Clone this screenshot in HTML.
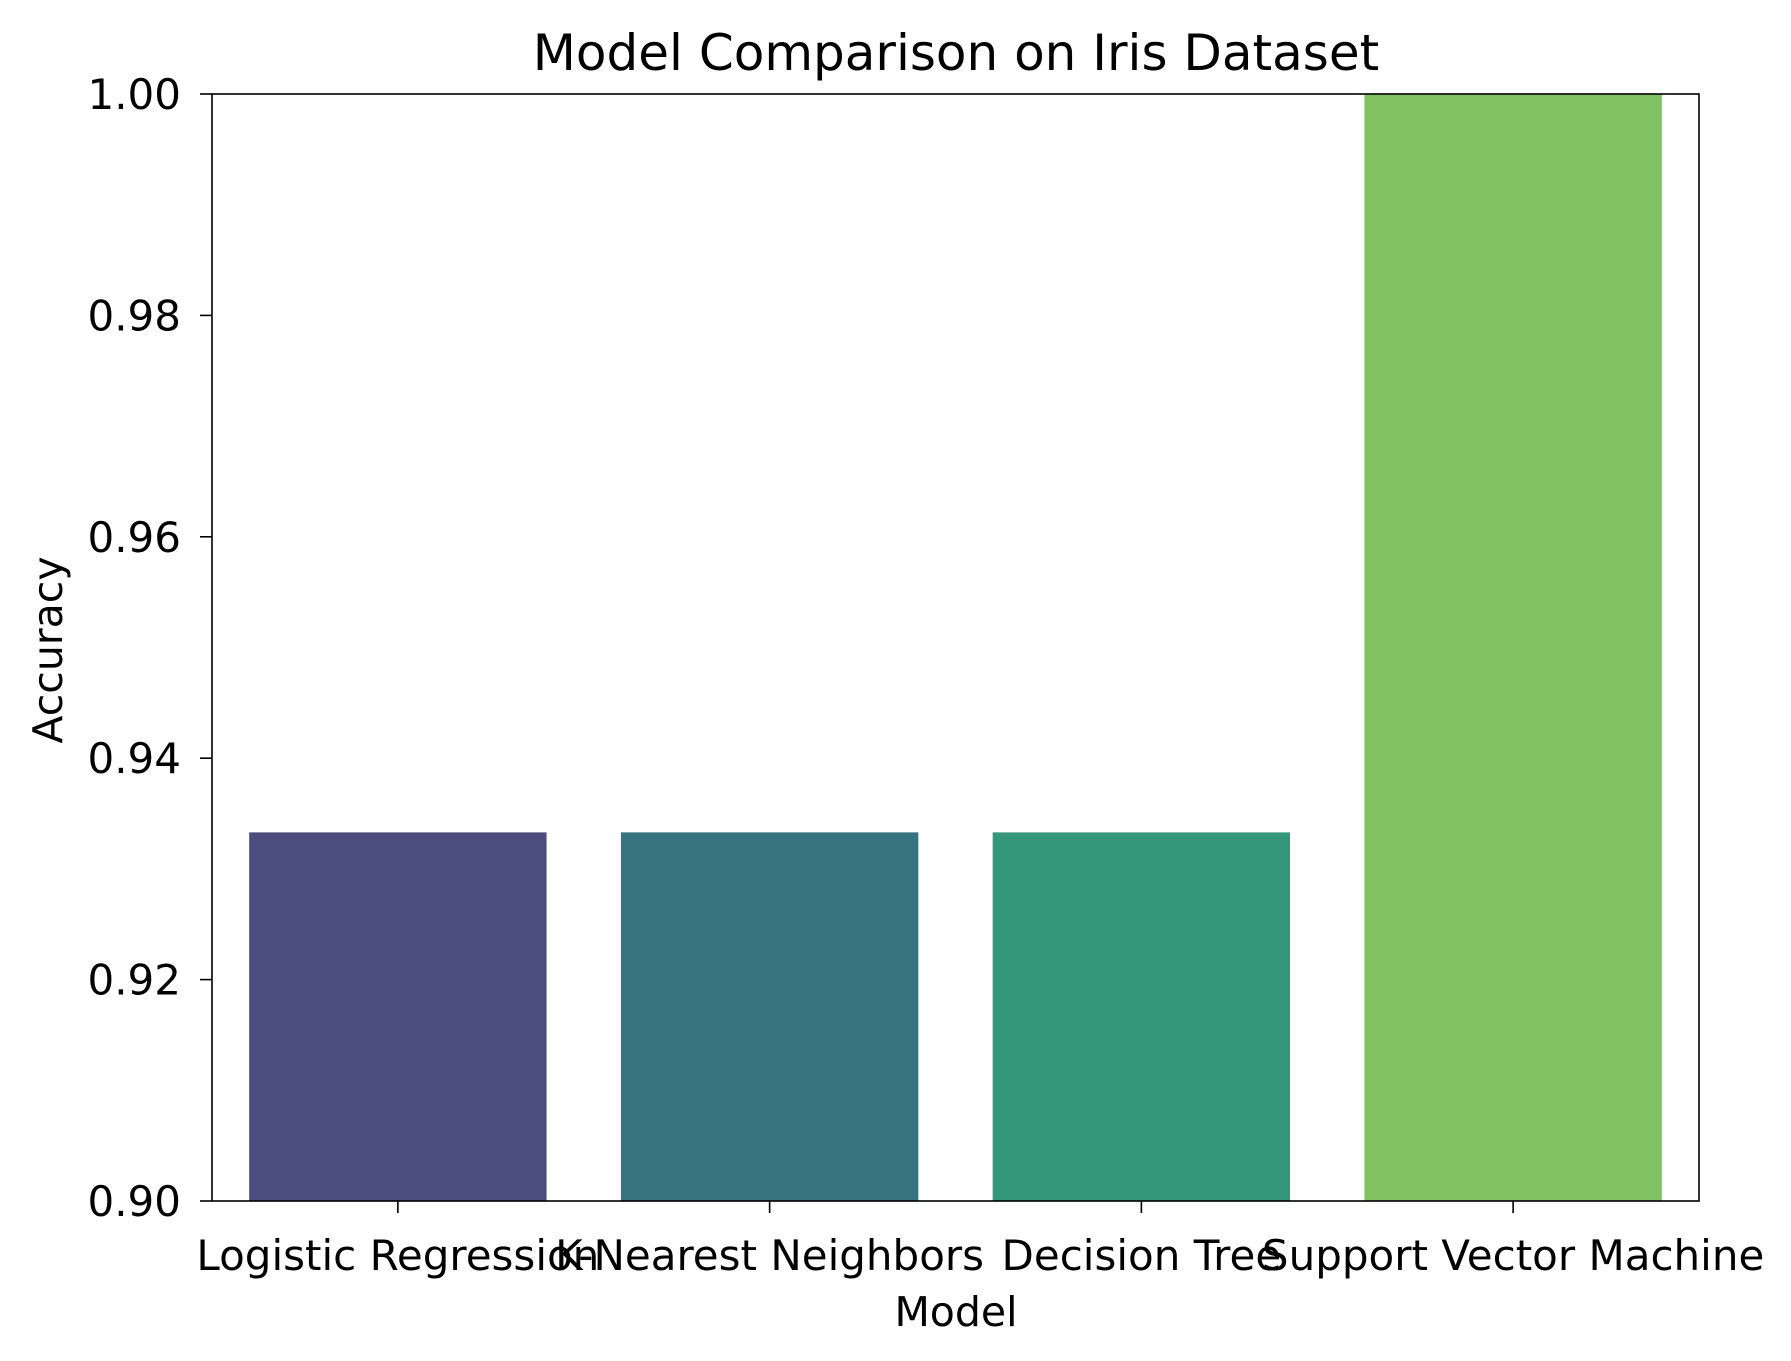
<!DOCTYPE html>
<html><head><meta charset="utf-8"><style>body{margin:0;background:#fff}svg{display:block}text{font-family:"DejaVu Sans","Liberation Sans",sans-serif;fill:#000}</style></head>
<body>
<svg id="chart" width="1791" height="1361" viewBox="0 0 1791 1361" xmlns="http://www.w3.org/2000/svg">
<rect width="1791" height="1361" fill="#fff"/>
<text x="956" y="70" font-size="50" text-anchor="middle">Model Comparison on Iris Dataset</text>
<g id="bars"></g>
<g id="axes"></g>
<text x="956" y="1326" font-size="41" text-anchor="middle">Model</text>
<text transform="translate(62,650) rotate(-90)" font-size="41" text-anchor="middle">Accuracy</text>
</svg>
<script>
const categories = ["Logistic Regression","K-Nearest Neighbors","Decision Tree","Support Vector Machine"];
const accuracies = [0.9333, 0.9333, 0.9333, 1.0];
const barColors = ["#4b4e7c","#37727f","#35977a","#80c263"];
const yTicks = [0.90, 0.92, 0.94, 0.96, 0.98, 1.00];
const yTickLabels = ["0.90","0.92","0.94","0.96","0.98","1.00"];
const NS="http://www.w3.org/2000/svg";
const L=212,R=1699,T=94,B=1201,yMin=0.9,yMax=1.0;
const band=(R-L)/categories.length;
const xScale=i=>L+band*(i+0.5);
const yScale=v=>B-(v-yMin)/(yMax-yMin)*(B-T);
function mk(tag,attrs,parent){const e=document.createElementNS(NS,tag);for(const k in attrs)e.setAttribute(k,attrs[k]);parent.appendChild(e);return e;}
const bars=document.getElementById('bars'),axes=document.getElementById('axes');
categories.forEach((c,i)=>{
  const y=yScale(accuracies[i]);
  const r=mk('rect',{x:xScale(i)-band*0.4,y:y,width:band*0.8,height:B-y,fill:barColors[i]},bars);
  
  
  const t=mk('line',{x1:xScale(i),x2:xScale(i),y1:B,y2:B+12,stroke:'#000','stroke-width':1.6},axes);
  
  
  const lb=mk('text',{x:xScale(i),y:1270,'font-size':42,'text-anchor':'middle'},axes);
  lb.textContent=c;
  
  
});
yTicks.forEach((v,i)=>{
  const y=yScale(v);
  const t=mk('line',{x1:L-12,x2:L,y1:y,y2:y,stroke:'#000','stroke-width':1.6},axes);
  
  
  const lb=mk('text',{x:L-31,y:y+15,'font-size':42,'text-anchor':'end'},axes);
  lb.textContent=yTickLabels[i];
  
  
});
const frame=mk('rect',{x:L,y:T,width:R-L,height:B-T,fill:'none',stroke:'#000','stroke-width':1.6},axes);


</script>
</body></html>
